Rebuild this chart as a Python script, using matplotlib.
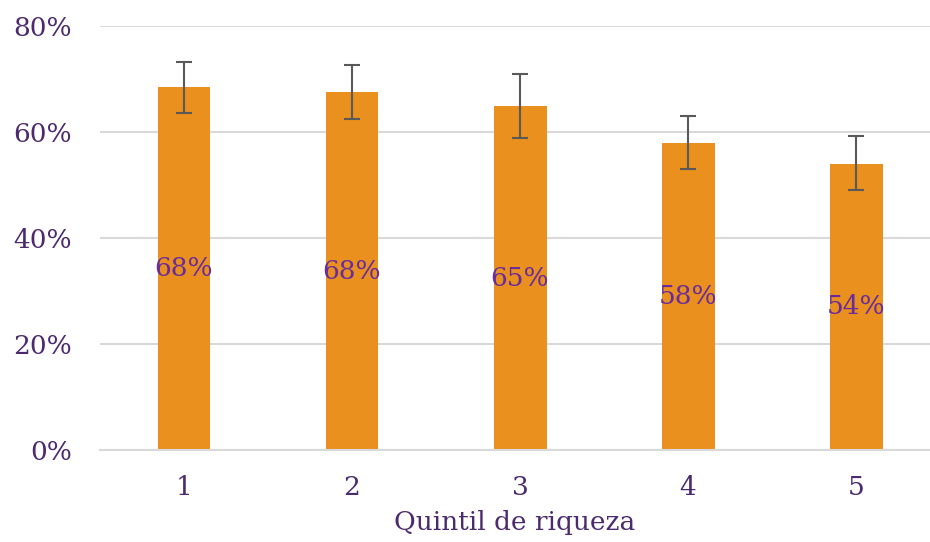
import matplotlib.pyplot as plt
import numpy as np

# Quintiles and share values (%)
quintiles = ['1', '2', '3', '4', '5']
values = [68.4, 67.5, 64.9, 57.9, 54.0]
labels = ['68%', '68%', '65%', '58%', '54%']
err_low = [4.9, 5.0, 6.0, 4.9, 5.0]
err_high = [4.9, 5.1, 6.0, 5.1, 5.2]

bar_color = '#E9901E'
tick_color = '#4B2A6E'
label_color = '#6A2C9B'
grid_color = '#D9D9D9'

plt.rcParams['font.family'] = ['DejaVu Serif']

fig = plt.figure(figsize=(9.3, 5.42), dpi=100)
ax = fig.add_axes([100 / 930, (542 - 450) / 542, 830 / 930, 424 / 542])

x = np.arange(len(quintiles))
ax.bar(x, values, width=0.315, color=bar_color, zorder=2)
ax.errorbar(x, values, yerr=[err_low, err_high], fmt='none', ecolor='#595959',
            elinewidth=1.5, capsize=6, capthick=1.5, zorder=3)

for xi, v, lab in zip(x, values, labels):
    ax.text(xi, v / 2, lab, ha='center', va='center', color=label_color, fontsize=19)

ax.set_ylim(0, 80)
ax.set_xlim(-0.5, 4.44)
ax.set_yticks([0, 20, 40, 60, 80])
ax.set_yticklabels(['0%', '20%', '40%', '60%', '80%'])
ax.set_xticks(x)
ax.set_xticklabels(quintiles)
ax.yaxis.grid(True, color=grid_color, linewidth=1.5, zorder=0)
ax.set_axisbelow(True)

for s in ['top', 'right', 'left']:
    ax.spines[s].set_visible(False)
ax.spines['bottom'].set_color(grid_color)
ax.spines['bottom'].set_linewidth(1.5)

ax.tick_params(axis='both', length=0, labelsize=19, colors=tick_color)
ax.tick_params(axis='y', pad=20)
ax.tick_params(axis='x', pad=18)
ax.set_xlabel('Quintil de riqueza', fontsize=19, color=tick_color, labelpad=7)

fig.savefig('out.png', dpi=100)
